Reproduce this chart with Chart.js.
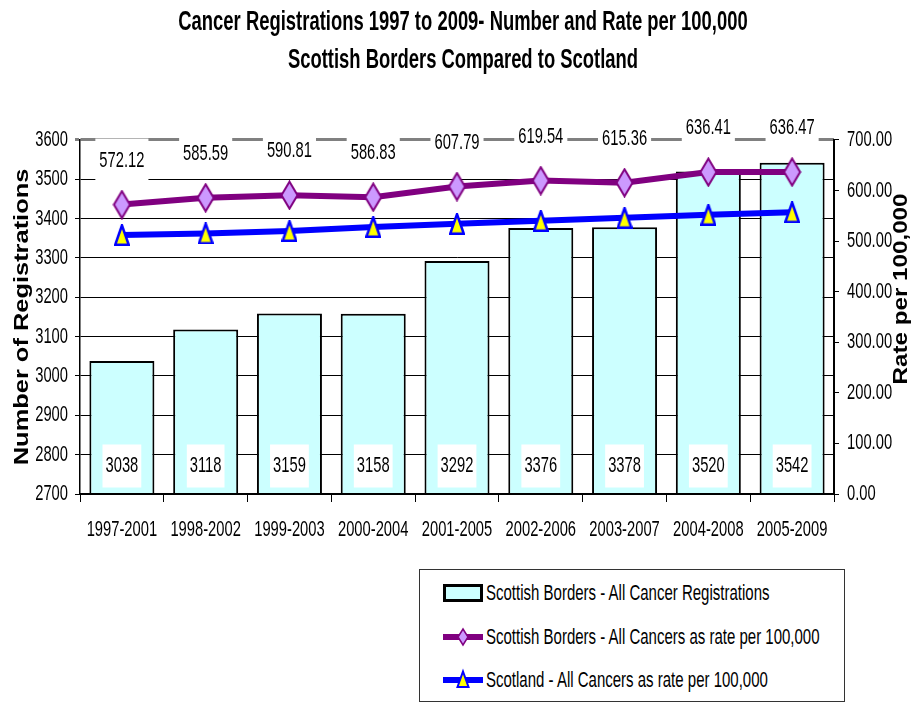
<!DOCTYPE html>
<html><head><meta charset="utf-8">
<script src="https://cdn.jsdelivr.net/npm/chart.js@4.4.0/dist/chart.umd.min.js"></script>
<style>
html,body{margin:0;padding:0;background:#fff;}
#wrap{position:relative;width:912px;height:704px;overflow:hidden;}
#c{position:absolute;left:0;top:0;}
#legend{position:absolute;left:419px;top:569px;width:424px;height:131px;border:1px solid #333;background:#fff;
  font-family:"Liberation Sans",Arial,sans-serif;font-size:22.4px;color:#000;}
.row{position:absolute;left:23px;height:26px;display:flex;align-items:center;white-space:nowrap;}
.row canvas{display:block;margin-right:3px;}
.row span{display:inline-block;transform:scaleX(0.67);transform-origin:0 50%;}
</style></head><body>
<div id="wrap"><canvas id="c" width="912" height="704"></canvas><div id="legend"></div></div>
<script>
// ---- data ----
const categories = ['1997-2001','1998-2002','1999-2003','2000-2004','2001-2005','2002-2006','2003-2007','2004-2008','2005-2009'];
const bordersCounts = [3038,3118,3159,3158,3292,3376,3378,3520,3542];
const bordersRates = [572.12,585.59,590.81,586.83,607.79,619.54,615.36,636.41,636.47];
const scotlandRates = [512,515,520,528,534,540,546,552,557];
const seriesNames = ['Scottish Borders - All Cancer Registrations','Scottish Borders - All Cancers as rate per 100,000','Scotland - All Cancers as rate per 100,000'];
const titleLines = ['Cancer Registrations 1997 to 2009- Number and Rate per 100,000','Scottish Borders Compared to Scotland'];
const leftAxisTitle = 'Number of Registrations';
const rightAxisTitle = 'Rate per 100,000';
const leftRange = [2700, 3600, 100];
const rightRange = [0, 700, 100];

// The reference text is tall and narrow (Arial Narrow stretched vertically).
// Canvas text whose family list names a marker is drawn with Liberation Sans
// scaled along its writing direction by the marker's factor.
const NARROW = '"Liberation Sans Narrow","Liberation Sans",Arial,sans-serif';
const AXISF = '"Liberation Sans Tall","Liberation Sans",Arial,sans-serif';
const STRETCH = [['Narrow', 0.67], ['Tall', 1.24]];
const PURPLE = '#800080', LILAC = '#CC99FF', BLUE = '#0000FF', YELLOW = '#FFFF00', CYAN = '#CCFFFF';

const canvas = document.getElementById('c');
const ctx2d = canvas.getContext('2d');
(function patchText(c){
  const of = c.fillText.bind(c), om = c.measureText.bind(c);
  const factor = () => { const f = c.font; for (const [k, v] of STRETCH) if (f.indexOf(k) >= 0) return v; return 1; };
  c.fillText = function(t, x, y, mw){
    const k = factor();
    const hasMw = mw !== undefined && mw !== null;
    if (k !== 1) {
      c.save(); c.translate(x, y); c.scale(k, 1);
      if (hasMw) of(t, 0, 0, mw / k); else of(t, 0, 0);
      c.restore();
    } else {
      if (hasMw) of(t, x, y, mw); else of(t, x, y);
    }
  };
  c.measureText = function(t){
    const m = om(t); const k = factor();
    if (k === 1) return m;
    return { width: m.width * k,
      actualBoundingBoxAscent: m.actualBoundingBoxAscent, actualBoundingBoxDescent: m.actualBoundingBoxDescent,
      actualBoundingBoxLeft: m.actualBoundingBoxLeft * k, actualBoundingBoxRight: m.actualBoundingBoxRight * k,
      fontBoundingBoxAscent: m.fontBoundingBoxAscent, fontBoundingBoxDescent: m.fontBoundingBoxDescent };
  };
})(ctx2d);

function makeDiamond(w, h, lw){
  const c = document.createElement('canvas'); c.width = w; c.height = h;
  const g = c.getContext('2d');
  g.beginPath(); g.moveTo(w/2, lw/2+0.5); g.lineTo(w-lw/2-0.5, h/2); g.lineTo(w/2, h-lw/2-0.5); g.lineTo(lw/2+0.5, h/2); g.closePath();
  g.fillStyle = LILAC; g.fill(); g.lineWidth = lw; g.strokeStyle = PURPLE; g.stroke();
  return c;
}
function makeTriangle(w, h, lw){
  const c = document.createElement('canvas'); c.width = w; c.height = h;
  const g = c.getContext('2d');
  g.beginPath(); g.moveTo(w/2, lw/2); g.lineTo(w-lw/2, h-lw/2); g.lineTo(lw/2, h-lw/2); g.closePath();
  g.fillStyle = YELLOW; g.fill(); g.lineWidth = lw; g.strokeStyle = BLUE; g.stroke();
  return c;
}
const diamond = makeDiamond(19, 30, 2);
const triangle = makeTriangle(16, 22, 2.5);

const labelPlugin = {
  id: 'valueLabels',
  afterDatasetsDraw(chart){
    const ctx = chart.ctx;
    const yBase = chart.scales.y.getPixelForValue(chart.scales.y.min);
    ctx.save();
    ctx.font = '22px ' + NARROW;
    ctx.textAlign = 'center'; ctx.textBaseline = 'middle';
    chart.getDatasetMeta(0).data.forEach((el, i) => {
      const txt = String(bordersCounts[i]);
      const w = ctx.measureText(txt).width + 6;
      const cy = yBase - 28;
      ctx.fillStyle = '#fff'; ctx.fillRect(el.x - w/2, cy - 21.5, w, 43);
      ctx.fillStyle = '#000'; ctx.fillText(txt, el.x, cy);
    });
    chart.getDatasetMeta(1).data.forEach((el, i) => {
      const txt = bordersRates[i].toFixed(2);
      const w = ctx.measureText(txt).width + 8;
      const cy = el.y - 44;
      ctx.fillStyle = '#fff'; ctx.fillRect(el.x - w/2, cy - 22, w, 44);
      ctx.fillStyle = '#000'; ctx.fillText(txt, el.x, cy);
    });
    ctx.restore();
  },
  afterDraw(chart){
    const ctx = chart.ctx, a = chart.chartArea;
    ctx.save();
    ctx.translate(chart.width - 10, (a.top + a.bottom)/2 - 28);
    ctx.rotate(-Math.PI/2);
    ctx.font = 'bold 19.5px ' + AXISF;
    ctx.textAlign = 'center'; ctx.textBaseline = 'middle'; ctx.fillStyle = '#000';
    ctx.fillText(rightAxisTitle, 0, 0);
    ctx.restore();
  }
};

const chart = new Chart(canvas, {
  type: 'bar',
  data: {
    labels: categories,
    datasets: [
      { type:'bar', label: seriesNames[0], data: bordersCounts, yAxisID:'y', order: 3,
        backgroundColor: CYAN, borderColor:'#000', borderWidth: 2, borderSkipped:'bottom',
        barPercentage: 0.776, categoryPercentage: 1 },
      { type:'line', label: seriesNames[1], data: bordersRates, yAxisID:'y2', order: 1,
        borderColor: PURPLE, borderWidth: 6, pointStyle: diamond, pointRadius: 10, tension: 0, fill:false },
      { type:'line', label: seriesNames[2], data: scotlandRates, yAxisID:'y2', order: 2,
        borderColor: BLUE, borderWidth: 6, pointStyle: triangle, pointRadius: 10, tension: 0, fill:false }
    ]
  },
  options: {
    responsive: false, animation: false, devicePixelRatio: 1,
    layout: { padding: { left: 14, right: 0, top: 0, bottom: 0 } },
    plugins: {
      legend: { display: false }, tooltip: { enabled: false },
      title: { display: true, text: titleLines, color:'#000',
        font: { family: NARROW, weight:'bold', size: 27.5, lineHeight: 1.38 },
        padding: { top: 3, bottom: 61 } }
    },
    scales: {
      x: {
        offset: true,
        grid: { offset: true, drawOnChartArea: false, drawTicks: true, tickLength: 8, color:'#000', lineWidth: 1 },
        border: { display: true, color:'#000', width: 2, z: 1 },
        ticks: { font: { family: NARROW, size: 22 }, color:'#000', padding: 15, maxRotation: 0, autoSkip: false },
        afterFit(s){ s.height = 210; }
      },
      y: {
        position:'left', min: leftRange[0], max: leftRange[1],
        ticks: { stepSize: leftRange[2], font: { family: NARROW, size: 22 }, color:'#000', padding: 7,
          callback: v => String(v) },
        grid: { color: c => (c.tick && c.tick.value === leftRange[1]) ? '#808080' : '#000',
                lineWidth: c => (c.tick && c.tick.value === leftRange[1]) ? 3 : 1,
                tickLength: 5, drawTicks: true },
        border: { color:'#000', width: 1.5 },
        title: { display: true, text: leftAxisTitle, color:'#000',
          font: { family: AXISF, weight:'bold', size: 20.5, lineHeight: 0.78 }, padding: { top: 0, bottom: 0 } },
        afterFit(s){ s.width = 66; }
      },
      y2: {
        position:'right', min: rightRange[0], max: rightRange[1],
        ticks: { stepSize: rightRange[2], font: { family: NARROW, size: 22 }, color:'#000', padding: 8,
          callback: v => Number(v).toFixed(2) },
        grid: { drawOnChartArea: false, tickLength: 5, color:'#000', drawTicks: true },
        border: { color:'#000', width: 2 },
        afterFit(s){ s.width = 78; }
      }
    }
  },
  plugins: [labelPlugin]
});

// ---- HTML legend built from the chart's datasets ----
(function(){
  const lg = document.getElementById('legend');
  const tops = [10, 54, 97];
  chart.data.datasets.forEach((ds, i) => {
    const row = document.createElement('div'); row.className = 'row'; row.style.top = tops[i] + 'px';
    const cv = document.createElement('canvas'); cv.width = 40; cv.height = 24;
    const g = cv.getContext('2d');
    if (i === 0) {
      g.fillStyle = CYAN; g.fillRect(1.5, 4.5, 37, 15);
      g.lineWidth = 3; g.strokeStyle = '#000'; g.strokeRect(1.5, 4.5, 37, 15);
    } else {
      g.strokeStyle = ds.borderColor; g.lineWidth = 6;
      g.beginPath(); g.moveTo(0, 12); g.lineTo(40, 12); g.stroke();
      if (i === 1) {
        g.beginPath(); g.moveTo(20, 4); g.lineTo(25, 12); g.lineTo(20, 20); g.lineTo(15, 12); g.closePath();
        g.fillStyle = LILAC; g.fill(); g.lineWidth = 1.5; g.strokeStyle = PURPLE; g.stroke();
      } else {
        g.beginPath(); g.moveTo(20, 3.5); g.lineTo(25.5, 19); g.lineTo(14.5, 19); g.closePath();
        g.fillStyle = YELLOW; g.fill(); g.lineWidth = 2; g.strokeStyle = BLUE; g.stroke();
      }
    }
    const sp = document.createElement('span'); sp.textContent = ds.label;
    row.appendChild(cv); row.appendChild(sp); lg.appendChild(row);
  });
})();
</script>
</body></html>
